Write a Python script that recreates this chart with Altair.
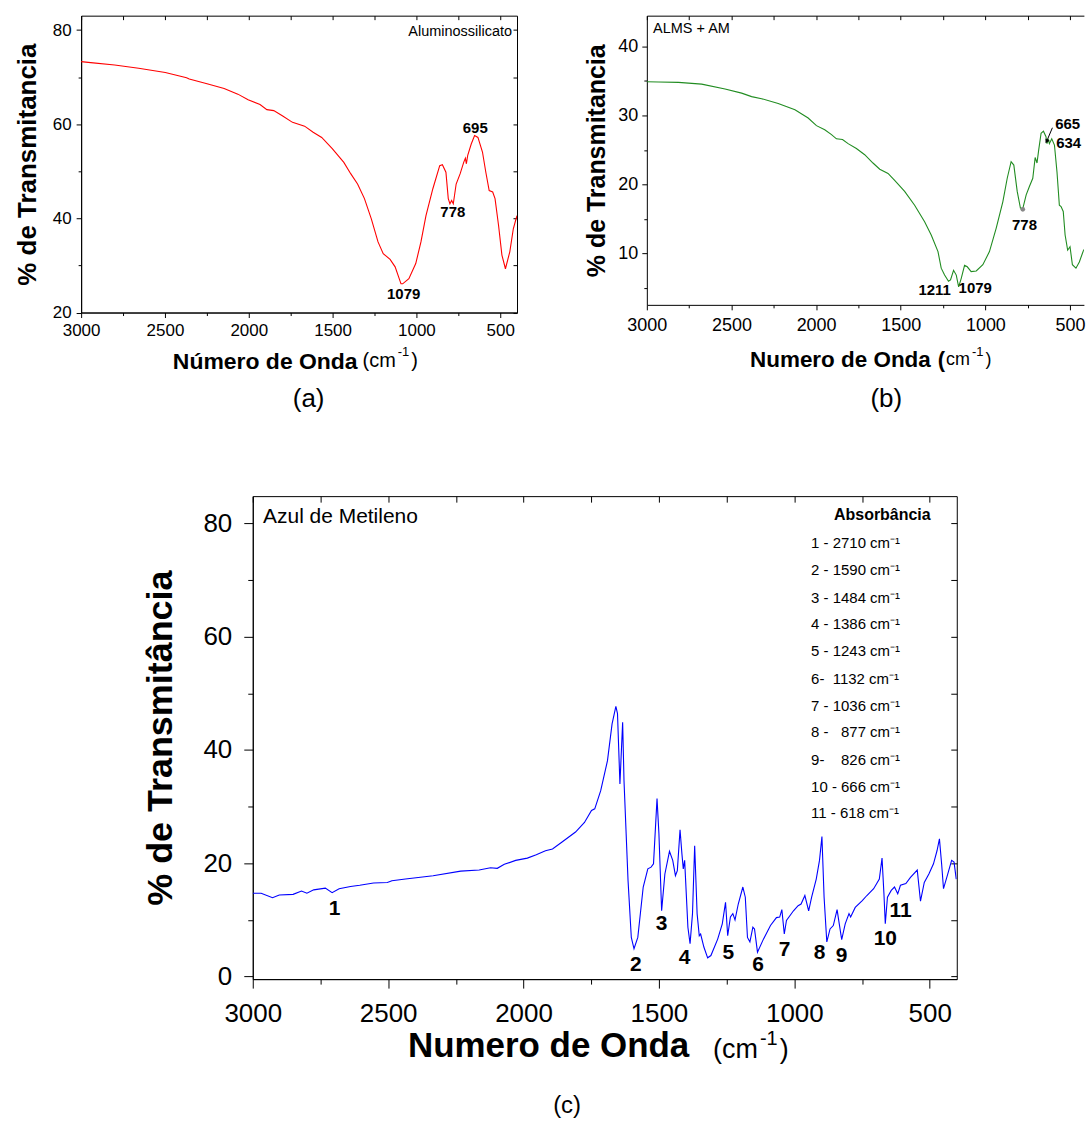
import altair as alt
import pandas as pd

FONT = "Liberation Sans"

# ---------------- panel (a): Aluminossilicato ----------------
a_wn = [3000, 2943, 2800, 2657, 2498, 2371, 2355, 2249, 2147, 2065, 2004, 1933, 1892, 1851, 1800,
        1739, 1667, 1616, 1565, 1502, 1433, 1392, 1351, 1310, 1269, 1229, 1198, 1157, 1127, 1092,
        1082, 1045, 1004, 973, 943, 902, 861, 845, 824, 810, 800, 790, 780, 763, 739,
        718, 708, 702, 694, 673, 653, 633, 606, 586, 566, 545, 531, 510, 490, 469,
        443, 422, 408, 400]
a_t = [73.3, 73.1, 72.6, 71.9, 71.0, 69.9, 69.6, 68.6, 67.6, 66.4, 65.2, 64.2, 63.1, 62.9, 61.8,
       60.4, 59.6, 58.3, 57.2, 54.8, 51.9, 49.5, 47.3, 44.2, 39.9, 35.0, 32.5, 31.3, 29.7, 26.1,
       26.1, 27.2, 30.4, 35.0, 40.6, 46.3, 51.2, 51.4, 49.8, 44.2, 43.1, 43.8, 43.1, 47.3, 49.5,
       51.9, 52.8, 51.6, 53.4, 55.8, 57.6, 57.2, 54.1, 49.8, 45.9, 45.6, 44.2, 38.5, 32.2, 29.3,
       32.9, 37.8, 39.6, 40.6]
a_lab_wn = [1076, 783, 649]
a_lab_t = [24.0, 41.3, 59.2]
a_lab_txt = ["1079", "778", "695"]

# ---------------- panel (b): ALMS + AM ----------------
b_wn = [3000, 2931, 2813, 2676, 2538, 2440, 2381, 2322, 2224, 2125, 2047, 1998, 1949, 1909, 1880,
        1844, 1811, 1762, 1713, 1664, 1624, 1575, 1536, 1477, 1418, 1359, 1320, 1280, 1261, 1241,
        1218, 1206, 1188, 1172, 1158, 1143, 1123, 1107, 1084, 1054, 1015, 976, 936, 897, 871,
        848, 832, 812, 793, 779, 759, 740, 720, 706, 695, 685, 671, 657, 642, 636,
        628, 622, 608, 592, 577, 563, 553, 540, 529, 514, 500, 486, 465, 445, 426, 418]
b_t = [34.85, 34.8, 34.75, 34.5, 33.8, 33.2, 32.7, 32.4, 31.7, 30.8, 29.6, 28.5, 27.9, 27.2, 26.6,
       26.5, 25.9, 25.2, 24.3, 23.1, 22.2, 21.6, 20.6, 19.0, 17.0, 14.6, 12.7, 10.3, 7.9, 6.9,
       6.0, 6.2, 7.6, 6.9, 5.2, 6.4, 8.3, 8.1, 7.4, 7.5, 8.4, 10.3, 13.7, 17.5, 20.9,
       23.3, 22.8, 19.0, 16.6, 16.5, 18.5, 19.7, 20.9, 23.9, 23.1, 25.0, 27.4, 27.7, 26.9, 25.9,
       26.6, 25.9, 26.6, 25.7, 21.8, 17.0, 16.8, 16.1, 12.7, 10.5, 11.0, 8.4, 7.9, 8.8, 10.1, 10.6]
b_lab_wn = [1300, 1060, 769]
b_lab_t = [4.76, 5.1, 14.2]
b_lab_txt = ["1211", "1079", "778"]
b_lab2_wn = [588, 582]
b_lab2_t = [28.8, 26.05]
b_lab2_txt = ["665", "634"]
b_dot_wn = [779]
b_dot_t = [16.4]
b_arrow_from_wn = [604]
b_arrow_from_t = [28.2]
b_arrow_to_wn = [637]
b_arrow_to_t = [26.3]

# ---------------- panel (c): Azul de Metileno ----------------
c_wn = [3000, 2969, 2927, 2902, 2851, 2820, 2800, 2775, 2732, 2707, 2681, 2639, 2605, 2554, 2503,
        2486, 2436, 2334, 2232, 2164, 2122, 2097, 2071, 2029, 1986, 1953, 1919, 1893, 1859, 1808,
        1775, 1749, 1737, 1715, 1690, 1673, 1659, 1653, 1644, 1634, 1629, 1614, 1602, 1592, 1578,
        1558, 1541, 1529, 1520, 1507, 1500, 1490, 1478, 1461, 1449, 1439, 1432, 1422, 1415, 1410,
        1405, 1393, 1385, 1376, 1368, 1359, 1351, 1346, 1334, 1320, 1308, 1283, 1266, 1254, 1246,
        1236, 1227, 1219, 1207, 1190, 1181, 1173, 1164, 1153, 1147, 1136, 1114, 1088, 1066, 1054,
        1046, 1037, 1029, 1003, 986, 975, 961, 947, 936, 919, 907, 898, 890, 880, 868,
        856, 842, 834, 825, 812, 798, 792, 775, 749, 732, 707, 686, 676, 669, 664,
        656, 642, 630, 618, 608, 588, 571, 546, 534, 520, 503, 486, 473, 464, 456,
        449, 435, 419, 410, 402]
c_t = [14.7, 14.7, 13.9, 14.4, 14.5, 15.1, 14.7, 15.3, 15.6, 14.8, 15.5, 15.9, 16.1, 16.5, 16.6,
       16.9, 17.2, 17.8, 18.6, 18.8, 19.2, 19.1, 19.8, 20.5, 20.9, 21.5, 22.2, 22.5, 23.7, 25.5,
       27.2, 29.3, 29.6, 32.8, 38.1, 44.6, 47.7, 46.4, 34.0, 44.9, 34.6, 16.9, 6.9, 4.9, 6.9,
       15.8, 19.0, 19.3, 19.9, 31.4, 25.2, 11.6, 18.1, 22.1, 20.5, 17.8, 18.7, 25.9, 21.6, 19.0,
       20.5, 8.7, 5.8, 11.1, 23.1, 11.1, 7.2, 7.5, 5.2, 3.3, 3.7, 6.6, 9.3, 13.1, 7.2,
       10.5, 11.1, 10.0, 12.8, 15.8, 14.0, 6.9, 6.1, 8.7, 8.4, 4.3, 6.6, 9.0, 10.4, 10.5,
       11.8, 7.5, 9.9, 11.6, 12.5, 12.8, 14.3, 11.6, 14.0, 17.2, 20.5, 24.7, 14.0, 6.1, 8.4,
       9.0, 11.8, 9.3, 6.5, 9.3, 11.1, 10.5, 12.2, 13.4, 14.3, 15.5, 17.2, 20.9, 14.6, 9.3,
       14.0, 15.2, 15.8, 14.6, 16.1, 16.4, 17.5, 18.8, 13.3, 16.6, 18.1, 19.9, 22.2, 24.3, 19.9,
       15.5, 17.8, 20.5, 20.2, 17.2]
c_lab_wn = [2698, 1585, 1490, 1405, 1244, 1134, 1036, 907, 825, 664, 608]
c_lab_t = [11.9, 2.1, 9.3, 3.3, 4.1, 2.1, 4.7, 4.1, 3.7, 6.6, 11.5]
c_lab_txt = ["1", "2", "3", "4", "5", "6", "7", "8", "9", "10", "11"]
c_leg_lines = ["1 - 2710 cm⁻¹", "2 - 1590 cm⁻¹", "3 - 1484 cm⁻¹", "4 - 1386 cm⁻¹",
               "5 - 1243 cm⁻¹", "6-\u00a0\u00a01132 cm⁻¹", "7 - 1036 cm⁻¹",
               "8 -\u00a0\u00a0\u00a0877 cm⁻¹", "9-\u00a0\u00a0\u00a0\u00a0826 cm⁻¹",
               "10 - 666 cm⁻¹", "11 - 618 cm⁻¹"]
c_leg_t = [76.5, 71.7, 66.9, 62.2, 57.4, 52.6, 47.8, 43.1, 38.3, 33.5, 28.8]

x_ticks = [500, 750, 1000, 1250, 1500, 1750, 2000, 2250, 2500, 2750, 3000]
a_y_ticks = [20, 30, 40, 50, 60, 70, 80]
b_y_ticks = [5, 10, 15, 20, 25, 30, 35, 40]
c_y_ticks = [0, 10, 20, 30, 40, 50, 60, 70, 80]


def axis(values, major, title, title_size, label_size, tmaj, tmin, lpad, tx=None, ty=None):
    test = f"datum.value % {major} === 0"
    kw = dict(values=values, format="d", labelExpr=f"{test} ? datum.label : ''",
              tickSize={"condition": {"test": test, "value": tmaj}, "value": tmin},
              tickColor="black", tickWidth=1, domainColor="black", domainWidth=1, grid=False,
              labelFont=FONT, labelFontSize=label_size, labelColor="black", labelPadding=lpad,
              labelFlush=False, labelOverlap=False,
              title=title, titleFont=FONT, titleFontSize=title_size, titleFontWeight="bold",
              titleColor="black", titleBaseline="middle", titleAlign="center")
    if tx is not None:
        kw["titleX"] = tx
    if ty is not None:
        kw["titleY"] = ty
    return alt.Axis(**kw)


def inner_axis(orient, values, size):
    # mirrored ticks pointing into the frame (top / right borders)
    return alt.Axis(orient=orient, values=values, labels=False, domain=False, ticks=True,
                    tickSize=size, offset=-size, tickColor="black", tickWidth=1,
                    title=None, grid=False)


def xs(lo):
    return alt.Scale(domain=[lo, 3000], reverse=True, nice=False, zero=False)


def ys(lo, hi):
    return alt.Scale(domain=[lo, hi], nice=False, zero=False)


def text_df(wn, t, txt):
    return pd.DataFrame({"wn": wn, "t": t, "txt": txt})


def pix_text(txt, px, py, size, weight="normal", align="left"):
    return alt.Chart(pd.DataFrame({"txt": [txt]})).mark_text(
        font=FONT, fontSize=size, fontWeight=weight, align=align, baseline="middle", color="black"
    ).encode(text="txt:N", x=alt.value(px), y=alt.value(py))


def unit_layers(px, py, s, sup, bold_paren=None, raise_k=0.45):
    """'(cm' + raised '-1' + ')' next to the bold axis title."""
    out = []
    x = px
    if bold_paren:
        out.append(pix_text("(", x, py, bold_paren, weight="bold"))
        x += 0.333 * bold_paren + 1
        out.append(pix_text("cm", x, py, s))
        x += 1.333 * s + 2
    else:
        out.append(pix_text("(cm", x, py, s))
        x += 1.666 * s + 2
    out.append(pix_text("-1", x, py - raise_k * s, sup))
    x += 0.889 * sup + 2
    out.append(pix_text(")", x, py, s))
    return out


def ann(df, xsc, ysc, size, weight="bold", align="center", baseline="middle"):
    return alt.Chart(df).mark_text(
        font=FONT, fontSize=size, fontWeight=weight, align=align, baseline=baseline, color="black"
    ).encode(x=alt.X("wn:Q", scale=xsc, axis=None), y=alt.Y("t:Q", scale=ysc, axis=None), text="txt:N")


# ---- panel (a)
aW, aH = 436.8, 297.5
axs, ays = xs(400), ys(20, 83.07)
a_df = pd.DataFrame({"wn": a_wn, "t": a_t})
a_line = alt.Chart(a_df).mark_line(color="#ff0000", strokeWidth=1.1, clip=True).encode(
    x=alt.X("wn:Q", scale=axs, axis=axis(x_ticks, 500, "Número de Onda", 23, 17, 5, 3, 5, 184, 49)),
    y=alt.Y("t:Q", scale=ays, axis=axis(a_y_ticks, 20, "% de Transmitancia", 26, 17, 5, 3, 5, tx=-54)),
)
a_inner = alt.Chart(a_df).mark_line(opacity=0).encode(
    x=alt.X("wn:Q", scale=axs, axis=inner_axis("top", x_ticks, 4)),
    y=alt.Y("t:Q", scale=ays, axis=inner_axis("right", a_y_ticks, 4)),
)
a = alt.layer(
    a_line, a_inner,
    ann(text_df(a_lab_wn, a_lab_t, a_lab_txt), axs, ays, 15),
    ann(text_df([430], [79.7], ["Aluminossilicato"]), axs, ays, 14.5, weight="normal", align="right"),
    *unit_layers(282, 346.5, 20, 13),
    pix_text("(a)", 228, 384.5, 26, align="center"),
).resolve_axis(x="independent", y="independent").properties(width=aW, height=aH)

# ---- panel (b)
bW, bH = 438, 289.8
bxs, bys = xs(418), ys(2.6, 44.4)
b_df = pd.DataFrame({"wn": b_wn, "t": b_t})
b_line = alt.Chart(b_df).mark_line(color="#218c21", strokeWidth=1.1, clip=True).encode(
    x=alt.X("wn:Q", scale=bxs, axis=axis(x_ticks, 500, "Numero de Onda", 22.5, 18, 5, 3, 7, 193.5, 55)),
    y=alt.Y("t:Q", scale=bys, axis=axis(b_y_ticks, 10, "% de Transmitancia", 25, 18, 5, 3, 4, tx=-50)),
)
b_top = alt.Chart(b_df).mark_line(opacity=0).encode(
    x=alt.X("wn:Q", scale=bxs, axis=alt.Axis(orient="top", labels=False, ticks=False, title=None,
                                             domainColor="black", domainWidth=1, grid=False)),
    y=alt.Y("t:Q", scale=bys, axis=None),
)
b_inner = alt.Chart(b_df).mark_line(opacity=0).encode(
    x=alt.X("wn:Q", scale=bxs, axis=inner_axis("top", x_ticks, 4)),
    y=alt.Y("t:Q", scale=bys, axis=None),
)
b_arrow = alt.Chart(pd.DataFrame({"x1": b_arrow_from_wn, "y1": b_arrow_from_t,
                                  "x2": b_arrow_to_wn, "y2": b_arrow_to_t})).mark_rule(
    color="black", strokeWidth=1
).encode(x=alt.X("x1:Q", scale=bxs, axis=None), x2="x2:Q",
         y=alt.Y("y1:Q", scale=bys, axis=None), y2="y2:Q")
b_head = alt.Chart(pd.DataFrame({"wn": b_arrow_to_wn, "t": b_arrow_to_t})).mark_point(
    shape="triangle", filled=True, size=22, angle=208, color="black", opacity=1
).encode(x=alt.X("wn:Q", scale=bxs, axis=None), y=alt.Y("t:Q", scale=bys, axis=None))
b_dot = alt.Chart(pd.DataFrame({"wn": b_dot_wn, "t": b_dot_t})).mark_point(
    filled=True, size=22, color="#888888", opacity=1
).encode(x=alt.X("wn:Q", scale=bxs, axis=None), y=alt.Y("t:Q", scale=bys, axis=None))
b = alt.layer(
    b_line, b_top, b_inner, b_arrow, b_head, b_dot,
    ann(text_df(b_lab_wn, b_lab_t, b_lab_txt), bxs, bys, 15),
    ann(text_df(b_lab2_wn, b_lab2_t, b_lab2_txt), bxs, bys, 15, align="left"),
    ann(text_df([2963], [42.5], ["ALMS + AM"]), bxs, bys, 14.5, weight="normal", align="left"),
    *unit_layers(291.5, 344.8, 18, 13, bold_paren=22),
    pix_text("(b)", 240, 384.5, 26, align="center"),
).resolve_axis(x="independent", y="independent").properties(
    width=bW, height=bH, view=alt.ViewBackground(stroke="transparent")
)

# ---- panel (c)
cW, cH = 705.5, 484
cxs, cys = xs(400), ys(-0.46, 84.8)
c_df = pd.DataFrame({"wn": c_wn, "t": c_t})
c_line = alt.Chart(c_df).mark_line(color="#0000ff", strokeWidth=1.1, clip=True).encode(
    x=alt.X("wn:Q", scale=cxs, axis=axis(x_ticks, 500, "Numero de Onda", 35, 26, 9, 5, 12, 296, 67)),
    y=alt.Y("t:Q", scale=cys, axis=axis(c_y_ticks, 20, "% de Transmitância", 36, 26, 9, 5, 12, tx=-92)),
)
c_inner = alt.Chart(c_df).mark_line(opacity=0).encode(
    x=alt.X("wn:Q", scale=cxs, axis=inner_axis("top", x_ticks, 6)),
    y=alt.Y("t:Q", scale=cys, axis=inner_axis("right", c_y_ticks, 6)),
)
c = alt.layer(
    c_line, c_inner,
    ann(text_df(c_lab_wn, c_lab_t, c_lab_txt), cxs, cys, 21),
    ann(text_df([2962], [81.2], ["Azul de Metileno"]), cxs, cys, 21, weight="normal", align="left"),
    ann(text_df([675], [81.5], ["Absorbância"]), cxs, cys, 16),
    ann(text_df([938] * len(c_leg_lines), c_leg_t, c_leg_lines), cxs, cys, 15, weight="normal", align="left"),
    *unit_layers(461.3, 555, 27, 20, raise_k=0.4),
    pix_text("(c)", 315, 611, 24, align="center"),
).resolve_axis(x="independent", y="independent").properties(width=cW, height=cH)

spacer = alt.Chart(pd.DataFrame({"v": [0]})).mark_point(opacity=0).encode(
    x=alt.X("v:Q", axis=None), y=alt.Y("v:Q", axis=None)
).properties(width=171.4, height=10, view=alt.ViewBackground(stroke="transparent"))

top = alt.hconcat(a, b, spacing=129.9, bounds="flush")
bottom = alt.hconcat(spacer, c, spacing=0, bounds="flush")
chart = alt.vconcat(top, bottom, spacing=82.5).properties(
    padding={"left": 13.3, "top": 13.5, "right": 0, "bottom": 5}
).configure(font=FONT).configure_view(stroke="black", strokeWidth=1)

chart.save("out.html", embed_options={"renderer": "svg", "actions": False})
